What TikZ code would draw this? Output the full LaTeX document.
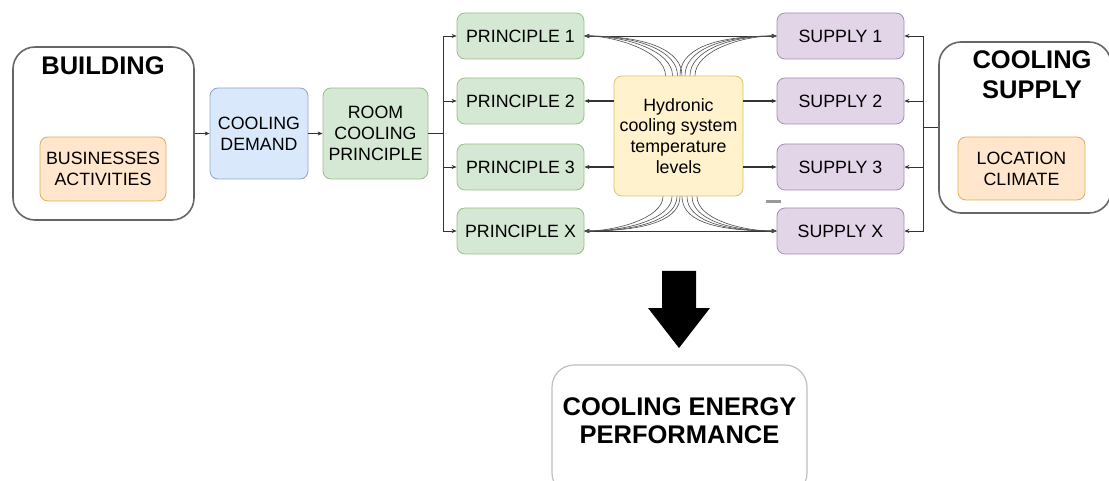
\documentclass[tikz,border=0pt]{standalone}
\usepackage{fontspec}
\setmainfont{Liberation Sans}
\usetikzlibrary{arrows.meta}
\definecolor{orfill}{HTML}{FFE6CC}\definecolor{ordraw}{HTML}{E0B050}
\definecolor{blfill}{HTML}{DAE8FC}\definecolor{bldraw}{HTML}{8AA6CF}
\definecolor{grfill}{HTML}{D5E8D4}\definecolor{grdraw}{HTML}{97BF85}
\definecolor{yefill}{HTML}{FFF2CC}\definecolor{yedraw}{HTML}{DCC170}
\definecolor{pufill}{HTML}{E1D5E7}\definecolor{pudraw}{HTML}{A78CB5}
\definecolor{edge}{HTML}{333333}
\tikzset{
  smallbox/.style={rounded corners=8pt, line width=0.8pt, align=center, inner sep=0pt,
    font=\fontsize{17.8}{20.8}\selectfont},
  orbox/.style={smallbox, fill=orfill, draw=ordraw},
  blbox/.style={smallbox, fill=blfill, draw=bldraw},
  grbox/.style={smallbox, fill=grfill, draw=grdraw},
  yebox/.style={smallbox, fill=yefill, draw=yedraw},
  pubox/.style={smallbox, fill=pufill, draw=pudraw},
  bigbox/.style={rounded corners=22pt, line width=1.6pt, draw=black!60, fill=white, inner sep=0pt},
  titletext/.style={font=\fontsize{25.5}{30}\selectfont\bfseries, align=center, inner sep=0pt},
  conn/.style={draw=edge, line width=0.7pt, -{Stealth[length=5pt,width=4pt]}},
  plain/.style={draw=edge, line width=0.7pt},
  fan/.style={draw=black!70, line width=0.6pt, -{Stealth[length=5pt,width=4pt]}},
}
\begin{document}
\begin{tikzpicture}[x=1pt,y=-1pt]
\useasboundingbox (0,0) rectangle (1109,481);
% building
\node[bigbox, minimum width=181pt, minimum height=173pt] (building) at (103.5,133.5) {};
\node[titletext] (buildingtitle) at (103,66) {BUILDING};
\node[orbox, minimum width=126pt, minimum height=64pt] (business) at (103,169) {BUSINESSES\\ACTIVITIES};
% demand and room
\node[blbox, minimum width=98pt, minimum height=91pt] (demand) at (259,133.5) {COOLING\\DEMAND};
\node[grbox, minimum width=105pt, minimum height=91pt] (room) at (375.5,133.5) {ROOM\\COOLING\\PRINCIPLE};
% principles
\node[grbox, minimum width=127pt, minimum height=46pt] (p1) at (520.5,36) {PRINCIPLE 1};
\node[grbox, minimum width=127pt, minimum height=46pt] (p2) at (520.5,101) {PRINCIPLE 2};
\node[grbox, minimum width=127pt, minimum height=46pt] (p3) at (520.5,167) {PRINCIPLE 3};
\node[grbox, minimum width=127pt, minimum height=46pt] (px) at (520.5,231) {PRINCIPLE X};
% hydronic
\node[yebox, minimum width=129pt, minimum height=120pt] (hyd) at (678.5,136) {Hydronic\\cooling system\\temperature\\levels};
% supplies
\node[pubox, minimum width=127pt, minimum height=46pt] (s1) at (840.5,36) {SUPPLY 1};
\node[pubox, minimum width=127pt, minimum height=46pt] (s2) at (840.5,101) {SUPPLY 2};
\node[pubox, minimum width=127pt, minimum height=46pt] (s3) at (840.5,167) {SUPPLY 3};
\node[pubox, minimum width=127pt, minimum height=46pt] (sx) at (840.5,231) {SUPPLY X};
% cooling supply
\node[bigbox, minimum width=172pt, minimum height=171pt] (csupply) at (1025,127.5) {};
\node[titletext] (cstitle) at (1032,75) {COOLING\\SUPPLY};
\node[orbox, minimum width=127pt, minimum height=63pt] (location) at (1021.5,168.5) {LOCATION\\CLIMATE};
% performance
\node[bigbox, draw=black!25, line width=1.2pt, minimum width=255pt, minimum height=130pt] (cep) at (679.5,430) {};
\node[titletext, font=\fontsize{25.5}{28}\selectfont\bfseries] (ceptext) at (679.5,421) {COOLING ENERGY\\PERFORMANCE};
% big arrow
\fill[black] (662,271) -- (696,271) -- (696,308) -- (710,308) -- (679,348) -- (648,308) -- (662,308) -- cycle;
% small gray dash
\fill[black!40] (766,200) rectangle (781,203);
% left chain
\draw[conn] (building.east) -- (demand.west);
\draw[conn] (demand.east) -- (room.west);
\coordinate (lsplit) at (443,133.5);
\draw[plain] (room.east) -- (lsplit);
\foreach \p in {p1,p2,p3,px} \draw[conn] (lsplit) |- (\p.west);
% right chain
\coordinate (rsplit) at (923,127.5);
\draw[plain] (csupply.west) -- (rsplit);
\foreach \s in {s1,s2,s3,sx} \draw[conn] (rsplit) |- (\s.east);
% straight lines top and bottom
\draw[conn, {Stealth[length=5pt,width=4pt]}-{Stealth[length=5pt,width=4pt]}] (p1.east) -- (s1.west);
\draw[conn, {Stealth[length=5pt,width=4pt]}-{Stealth[length=5pt,width=4pt]}] (px.east) -- (sx.west);
% fans top
\foreach \dx/\c in {-13/615,-6/628,-1/640,3.5/650} {
  \draw[fan] ([xshift=\dx pt]hyd.north) .. controls ([xshift=\dx pt, yshift=24pt]hyd.north) and (\c,36) .. (p1.east);
}
\foreach \dx/\c in {1.5/708,6.5/718,11.5/728,16.5/740} {
  \draw[fan] ([xshift=\dx pt]hyd.north) .. controls ([xshift=\dx pt, yshift=24pt]hyd.north) and (\c,36) .. (s1.west);
}
% fans bottom
\foreach \dx/\c in {-15.5/615,-6.5/628,-1.5/640,1.5/650} {
  \draw[fan] ([xshift=\dx pt]hyd.south) .. controls ([xshift=\dx pt, yshift=-22pt]hyd.south) and (\c,231) .. (px.east);
}
\foreach \dx/\c in {3.5/708,8.5/718,13.5/728,18.5/740} {
  \draw[fan] ([xshift=\dx pt]hyd.south) .. controls ([xshift=\dx pt, yshift=-22pt]hyd.south) and (\c,231) .. (sx.west);
}
% middle connectors
\draw[conn, line width=1.2pt] (hyd.west |- p2.east) -- (p2.east);
\draw[conn, line width=1.2pt] (hyd.west |- p3.east) -- (p3.east);
\draw[conn, line width=1.2pt] (hyd.east |- s2.west) -- (s2.west);
\draw[conn, line width=1.2pt] (hyd.east |- s3.west) -- (s3.west);
\end{tikzpicture}
\end{document}
